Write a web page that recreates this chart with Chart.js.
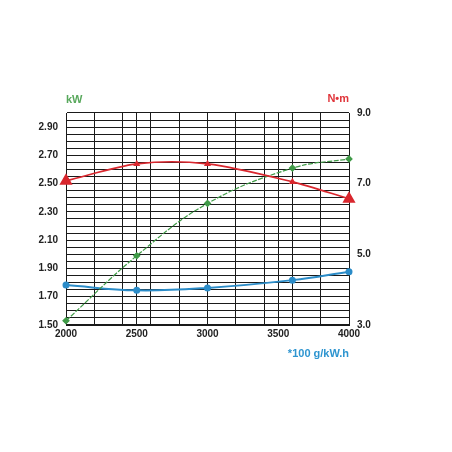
<!DOCTYPE html>
<html><head><meta charset="utf-8">
<script src="https://cdn.jsdelivr.net/npm/chart.js@4"></script>
<style>html,body{margin:0;padding:0;background:#fff}#c{display:block}</style>
</head><body>
<canvas id="c" width="452" height="452"></canvas>
<script>
const rpm = [2000, 2500, 3000, 3600, 4000];
const powerKW = [1.53, 1.99, 2.36, 2.61, 2.675];
const torqueNm = [7.08, 7.56, 7.56, 7.05, 6.57];
const fuel100 = [4.13, 3.98, 4.05, 4.27, 4.51];
const xGrid = [2000, 2200, 2400, 2500, 2600, 2800, 3000, 3200, 3400, 3500, 3600, 3800, 4000];
const xLabels = [2000, 2500, 3000, 3500, 4000];
const leftLabels = [1.5, 1.7, 1.9, 2.1, 2.3, 2.5, 2.7, 2.9];
const rightLabels = [3, 5, 7, 9];

const GREEN = '#3f9a47', RED = '#d9272e', BLUE = '#2b8cc8';
const FONT = '"Liberation Sans Narrow", "Liberation Sans", Arial, sans-serif';

const toXY = (vals) => vals.map((v, i) => ({x: rpm[i], y: v}));
const near = (arr, v) => arr.some(a => Math.abs(a - v) < 1e-6);

const unitLabels = {
  id: 'unitLabels',
  afterDraw(chart) {
    const {ctx, chartArea: a} = chart;
    ctx.save();
    ctx.font = 'bold 11px ' + FONT;
    ctx.textBaseline = 'middle';
    ctx.textAlign = 'left';
    ctx.fillStyle = '#58a85c';
    ctx.fillText('kW', a.left, a.top - 13);
    ctx.textAlign = 'right';
    ctx.fillStyle = '#e0353b';
    ctx.fillText('N\u2022m', a.right, a.top - 14);
    ctx.fillStyle = '#2e95d0';
    ctx.fillText('*100 g/kW.h', a.right, a.bottom + 29);
    ctx.restore();
  }
};

new Chart(document.getElementById('c'), {
  type: 'line',
  data: {
    datasets: [
      {
        label: 'Torque', data: toXY(torqueNm), yAxisID: 'yR',
        borderColor: RED, backgroundColor: RED, borderWidth: 1.6,
        tension: 0.3, pointStyle: 'triangle',
        pointRadius: [6, 2.5, 2.5, 2.5, 6], clip: false
      },
      {
        label: 'Power', data: toXY(powerKW), yAxisID: 'yL',
        borderColor: GREEN, backgroundColor: GREEN, borderWidth: 1.2,
        borderDash: [5, 1.5], tension: 0.4, pointStyle: 'rectRot',
        pointRadius: 3, clip: false
      },
      {
        label: 'Fuel', data: toXY(fuel100), yAxisID: 'yR',
        borderColor: BLUE, backgroundColor: BLUE, borderWidth: 2,
        tension: 0.4, pointStyle: 'circle', pointRadius: 2.5, clip: false
      }
    ]
  },
  options: {
    responsive: false, animation: false,
    layout: {padding: {top: 113, left: 0, right: 0, bottom: 0}},
    plugins: {legend: {display: false}, tooltip: {enabled: false}},
    scales: {
      x: {
        type: 'linear', min: 2000, max: 4000,
        afterBuildTicks: (ax) => { ax.ticks = xGrid.map(v => ({value: v})); },
        afterFit: (ax) => { ax.height = 127; },
        grid: {color: '#1a1a1a', lineWidth: 1, drawTicks: false},
        border: {color: '#1a1a1a', width: 1},
        ticks: {
          autoSkip: false, maxRotation: 0, padding: 3, color: '#222',
          font: {family: FONT, size: 10, weight: 'bold'},
          callback: (v) => near(xLabels, v) ? String(v) : ''
        }
      },
      yL: {
        type: 'linear', position: 'left', min: 1.5, max: 3.0,
        afterFit: (ax) => { ax.width = 66; },
        grid: {color: '#1a1a1a', lineWidth: 1.1, drawTicks: false},
        border: {color: '#1a1a1a', width: 1},
        ticks: {
          stepSize: 0.05, autoSkip: false, padding: 8, color: '#222',
          font: {family: FONT, size: 10, weight: 'bold'},
          callback: (v) => near(leftLabels, v) ? v.toFixed(2) : ''
        }
      },
      yR: {
        type: 'linear', position: 'right', min: 3, max: 9,
        afterFit: (ax) => { ax.width = 103; },
        grid: {display: false, drawTicks: false},
        border: {color: '#1a1a1a', width: 1},
        ticks: {
          stepSize: 0.2, autoSkip: false, padding: 8, color: '#222',
          font: {family: FONT, size: 10, weight: 'bold'},
          callback: (v) => near(rightLabels, v) ? v.toFixed(1) : ''
        }
      }
    }
  },
  plugins: [unitLabels]
});
</script>
</body></html>
